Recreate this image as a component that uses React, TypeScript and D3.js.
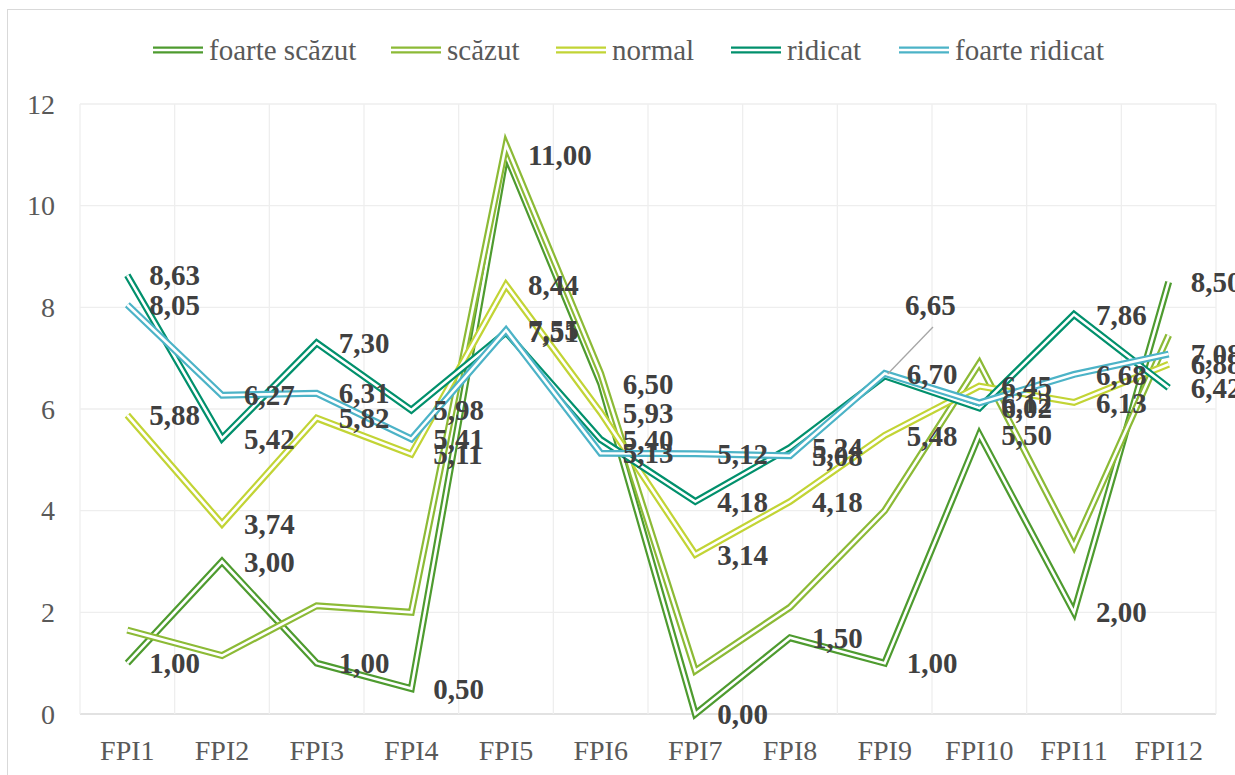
import React from 'react';
import * as d3 from 'd3';

const categories = ['FPI1', 'FPI2', 'FPI3', 'FPI4', 'FPI5', 'FPI6', 'FPI7', 'FPI8', 'FPI9', 'FPI10', 'FPI11', 'FPI12'];

const foarteScazut = [1.0, 3.0, 1.0, 0.5, 11.0, 6.5, 0.0, 1.5, 1.0, 5.5, 2.0, 8.5];
const scazut = [1.65, 1.15, 2.13, 2.0, 11.2, 6.7, 0.85, 2.1, 4.0, 6.9, 3.3, 7.45];
const normal = [5.88, 3.74, 5.82, 5.11, 8.44, 5.93, 3.14, 4.18, 5.48, 6.45, 6.13, 6.88];
const ridicat = [8.63, 5.42, 7.3, 5.98, 7.51, 5.4, 4.18, 5.24, 6.65, 6.02, 7.86, 6.42];
const foarteRidicat = [8.05, 6.27, 6.31, 5.41, 7.55, 5.13, 5.12, 5.08, 6.7, 6.12, 6.68, 7.08];

const yTicks = [0, 2, 4, 6, 8, 10, 12];

const series = [
  { name: 'foarte scăzut', values: foarteScazut, color: '#4e9b2f', labels: true },
  { name: 'scăzut', values: scazut, color: '#8cba36', labels: false },
  { name: 'normal', values: normal, color: '#c2d435', labels: true },
  { name: 'ridicat', values: ridicat, color: '#01906c', labels: true },
  { name: 'foarte ridicat', values: foarteRidicat, color: '#4cb3c7', labels: true },
];

const W = 1235;
const H = 775;
const FONT = '"Liberation Serif", "Times New Roman", serif';

export default function App() {
  const left = 80;
  const right = 1216;
  const top = 104;
  const bottom = 714;

  const x = d3.scaleBand().domain(categories).range([left, right]);
  const y = d3.scaleLinear().domain([0, 12]).range([bottom, top]);
  const cx = (c: string) => (x(c) as number) + x.bandwidth() / 2;

  const line = d3
    .line<number>()
    .x((_, i) => cx(categories[i]))
    .y((d) => y(d));

  // legend entries start here (line sample, then the name)
  const legendX = [153, 391, 556, 731, 899];

  return (
    <div style={{ position: 'absolute', left: 0, top: 0 }}>
      <svg width={W} height={H} style={{ display: 'block', background: '#fff' }}>
        <rect x={7.5} y={9.5} width={1240} height={790} fill="#fff" stroke="#d9d9d9" />

        {/* grid */}
        {yTicks.map((t) => (
          <line key={'gy' + t} x1={left} x2={right} y1={y(t)} y2={y(t)} stroke={t === 0 ? '#d9d9d9' : '#eeeeee'} strokeWidth={1.3} />
        ))}
        {categories.map((c) => (
          <line key={'gx' + c} x1={x(c)} x2={x(c)} y1={top} y2={bottom} stroke="#eeeeee" strokeWidth={1.3} />
        ))}
        <line x1={right} x2={right} y1={top} y2={bottom} stroke="#eeeeee" strokeWidth={1.3} />

        {/* axis labels */}
        {yTicks.map((t) => (
          <text key={'ty' + t} x={55} y={y(t)} dy="0.35em" textAnchor="end" fontFamily={FONT} fontSize={28} fill="#595959">
            {t}
          </text>
        ))}
        {categories.map((c) => (
          <text key={'tx' + c} x={cx(c)} y={760} textAnchor="middle" fontFamily={FONT} fontSize={28} fill="#595959">
            {c}
          </text>
        ))}

        {/* double lines: coloured stroke with a white core */}
        {series.map((s) => (
          <g key={s.name}>
            <path d={line(s.values) || ''} fill="none" stroke={s.color} strokeWidth={7} strokeLinejoin="miter" />
            <path d={line(s.values) || ''} fill="none" stroke="#fff" strokeWidth={2.6} strokeLinejoin="miter" />
          </g>
        ))}

        {/* leader line for 6,65 */}
        <line x1={cx('FPI9') + 3} y1={y(6.65) - 2} x2={933} y2={327} stroke="#a6a6a6" strokeWidth={1.3} />

        {/* data labels */}
        {series
          .filter((s) => s.labels)
          .map((s) =>
            s.values.map((v, i) => {
              const moved = s.name === 'ridicat' && categories[i] === 'FPI9';
              return (
                <text
                  key={s.name + i}
                  x={moved ? 905 : cx(categories[i]) + 22}
                  y={moved ? 305 : y(v)}
                  dy="0.35em"
                  fontFamily={FONT}
                  fontSize={29}
                  fontWeight="bold"
                  fill="#404040"
                >
                  {v.toFixed(2).replace('.', ',')}
                </text>
              );
            })
          )}

        {/* legend */}
        {series.map((s, i) => (
          <g key={'lg' + s.name} transform={`translate(${legendX[i]},50)`}>
            <line x1={0} x2={50} y1={0} y2={0} stroke={s.color} strokeWidth={7} />
            <line x1={0} x2={50} y1={0} y2={0} stroke="#fff" strokeWidth={2.6} />
            <text x={56} y={0} dy="0.35em" fontFamily={FONT} fontSize={29} fill="#595959">
              {s.name}
            </text>
          </g>
        ))}
      </svg>
    </div>
  );
}
